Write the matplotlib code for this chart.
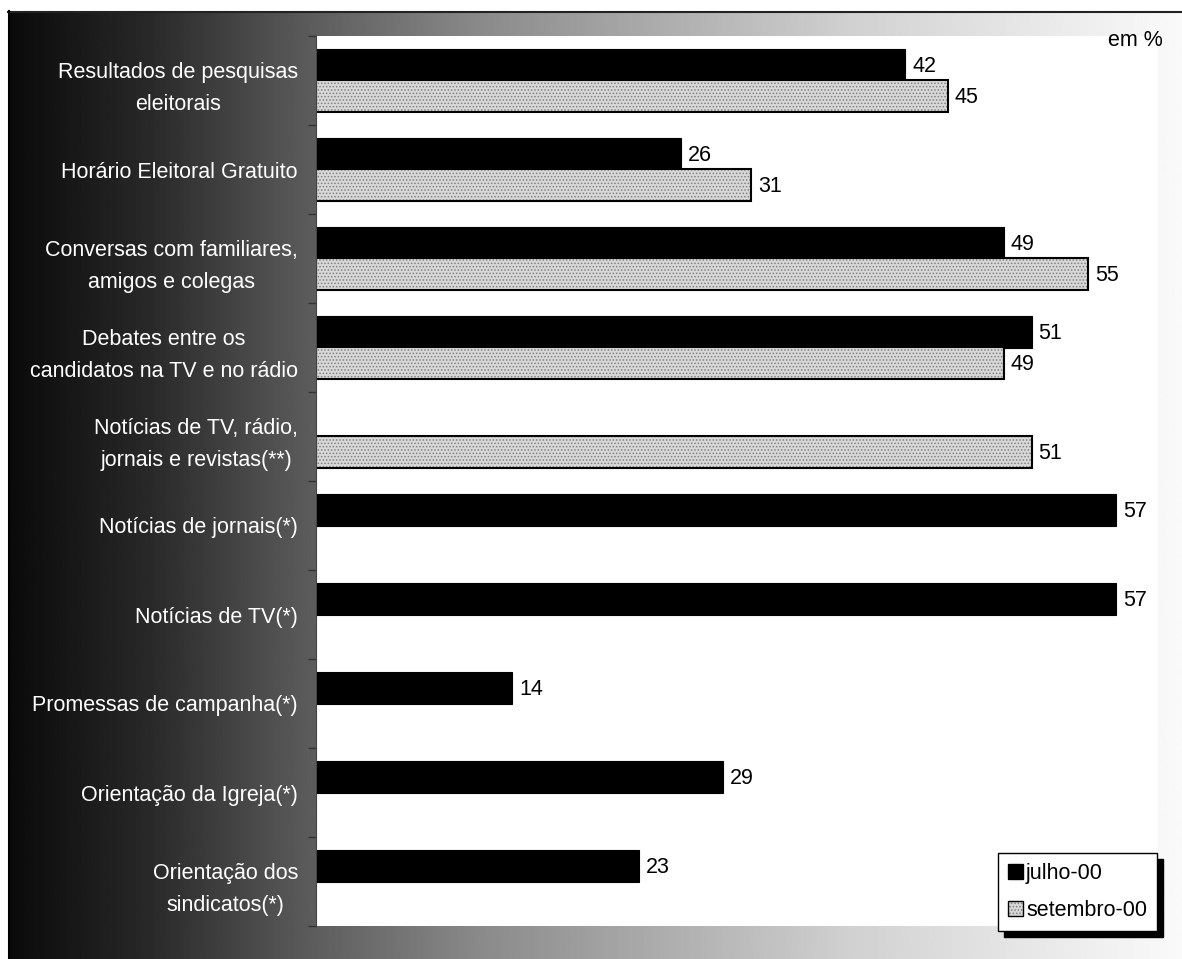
import numpy as np
import matplotlib.pyplot as plt
from matplotlib.patches import Patch
from matplotlib.lines import Line2D

# Data (em %)
categorias = [
    "Resultados de pesquisas\neleitorais",
    "Horário Eleitoral Gratuito",
    "Conversas com familiares,\namigos e colegas",
    "Debates entre os\ncandidatos na TV e no rádio",
    "Notícias de TV, rádio,\njornais e revistas(**)",
    "Notícias de jornais(*)",
    "Notícias de TV(*)",
    "Promessas de campanha(*)",
    "Orientação da Igreja(*)",
    "Orientação dos\nsindicatos(*)",
]
julho = [42, 26, 49, 51, np.nan, 57, 57, 14, 29, 23]
setembro = [45, 31, 55, 49, 51, np.nan, np.nan, np.nan, np.nan, np.nan]
series = ["julho-00", "setembro-00"]

plt.rcParams['font.family'] = ['Liberation Sans', 'DejaVu Sans']
plt.rcParams['hatch.color'] = '#808080'
plt.rcParams['hatch.linewidth'] = 0.7

W, H = 1182, 959
fig = plt.figure(figsize=(W / 100, H / 100), dpi=100)

# ---- background gradient (black -> white) ----
bg = fig.add_axes([8 / W, 0, (W - 8) / W, (H - 11) / H])
xs = np.linspace(0, 1, 800)
tone = np.interp(xs, [0, 0.12, 0.25, 0.4, 0.72, 0.93, 1],
                 [0.04, 0.16, 0.35, 0.54, 0.82, 0.94, 0.98])
bg.imshow(tone[None, :], cmap='gray', vmin=0, vmax=1, aspect='auto',
          extent=[0, 1, 0, 1])
bg.set_axis_off()
fig.add_artist(Line2D([8 / W, 1], [1 - 11.5 / H] * 2, color='#222222', lw=1.5))
fig.add_artist(Line2D([8.5 / W] * 2, [0, 1 - 11 / H], color='black', lw=1.5))

# ---- bars ----
ax = fig.add_axes([316 / W, 1 - 926 / H, 842 / W, 890 / H])
ax.set_facecolor('white')
y = np.arange(len(categorias))
h = 0.36
off = 0.175

ax.barh(y - off, julho, height=h, color='black', edgecolor='black', lw=0.8)
ax.barh(y + off, setembro, height=h, facecolor='#d8d8d8', hatch='.....',
        edgecolor=None, lw=0)
ax.barh(y + off, setembro, height=h, fill=False, edgecolor='black', lw=1.5)

for yi, v in zip(y - off, julho):
    if not np.isnan(v):
        ax.annotate(f"{v:g}", (v, yi), xytext=(5, -1), textcoords='offset points',
                    va='center', ha='left', fontsize=15.5)
for yi, v in zip(y + off, setembro):
    if not np.isnan(v):
        ax.annotate(f"{v:g}", (v, yi), xytext=(5, -1), textcoords='offset points',
                    va='center', ha='left', fontsize=15.5)

ax.set_xlim(0, 60)
ax.set_ylim(len(categorias) - 0.5, -0.5)
ax.set_xticks([])
ax.set_yticks(y)
ax.set_yticklabels(categorias, color='white', fontsize=15.5, linespacing=1.7,
                   multialignment='center')
ax.tick_params(axis='y', which='major', length=0, pad=13)
ax.set_yticks(np.arange(-0.5, len(categorias)), minor=True)
ax.tick_params(axis='y', which='minor', length=6, width=1, color='#333333')
for s in ['top', 'right', 'bottom']:
    ax.spines[s].set_visible(False)
ax.spines['left'].set_color('#444444')

fig.text(1163 / W, 1 - 41 / H, 'em %', ha='right', va='center', fontsize=15.5)

# ---- legend ----
h1 = Patch(facecolor='black', edgecolor='black')
h2 = (Patch(facecolor='#d8d8d8', hatch='.....', edgecolor=None),
      Patch(fill=False, edgecolor='black', lw=1))
fig.legend([h1, h2], series, loc='upper left',
           bbox_to_anchor=(998 / W, 1 - 853 / H), frameon=True, fancybox=False,
           shadow={'color': 'black', 'alpha': 1, 'ox': 4.5, 'oy': -4.5},
           edgecolor='black', framealpha=1, fontsize=15.5,
           handlelength=0.7, handleheight=0.7, handletextpad=0.15,
           borderpad=0.45, labelspacing=0.75, borderaxespad=0)

fig.savefig('out.png', dpi=100)
